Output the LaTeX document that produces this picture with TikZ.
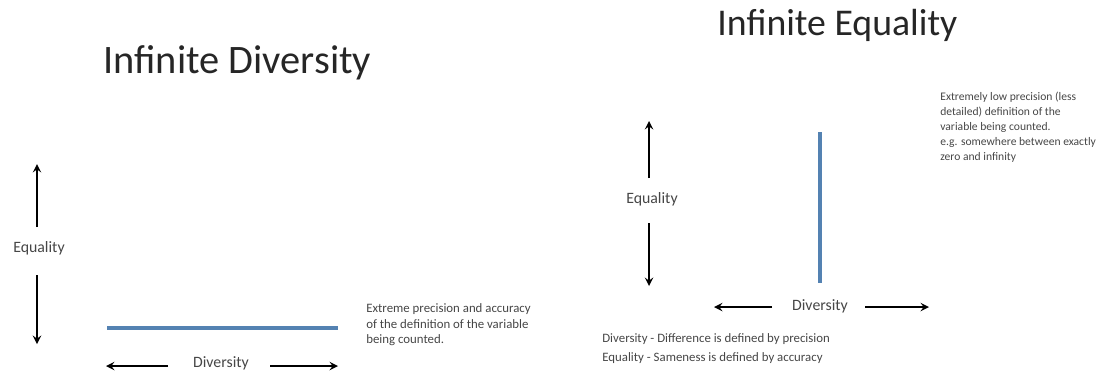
\documentclass[tikz,border=0pt]{standalone}
\usepackage{fontspec}
\setmainfont{Carlito}
\definecolor{lineblue}{RGB}{84,130,178}
\definecolor{textgray}{RGB}{70,70,70}
\definecolor{titlegray}{RGB}{38,38,38}

\begin{document}
\begin{tikzpicture}[x=0.02cm,y=-0.02cm,>=stealth,
    axis arrow/.style={->,line width=1.1pt},
    level line/.style={line width=1.8pt,draw=lineblue},
    title node/.style={inner sep=0pt,text=titlegray,font=\fontsize{23}{27}\selectfont},
    axis node/.style={inner sep=0pt,text=textgray,font=\fontsize{9}{11}\selectfont},
    note node/.style={inner sep=0pt,text=textgray,align=left,font=\fontsize{7.3}{9}\selectfont}]

            \useasboundingbox (0,0) rectangle (1105,376);

            % left picture
            \node[title node, anchor=base west] (title1) at (103,73) {Infinite Diversity};
            \node[axis node] (eq1) at (39,248) {Equality};
            \node[axis node] (div1) at (221,363) {Diversity};
            \node[note node, anchor=north west] (note1) at (366,303) {Extreme precision and accuracy\\of the definition of the variable\\being counted.};

            \coordinate (eq1up) at (37,227);
            \coordinate (eq1top) at (37,164);
            \coordinate (eq1dn) at (37,275);
            \coordinate (eq1bot) at (37,344);
            \coordinate (div1l) at (168,366);
            \coordinate (div1left) at (106,366);
            \coordinate (div1r) at (270,366);
            \coordinate (div1right) at (338,366);
            \coordinate (lvl1a) at (107,328);
            \coordinate (lvl1b) at (338,328);

            \draw[axis arrow] (eq1up) to (eq1top);
            \draw[axis arrow] (eq1dn) to (eq1bot);
            \draw[axis arrow] (div1l) to (div1left);
            \draw[axis arrow] (div1r) to (div1right);
            \draw[level line] (lvl1a) to (lvl1b);

            % right picture
            \node[title node, anchor=base west, font=\fontsize{21.5}{25}\selectfont] (title2) at (717,35) {Infinite Equality};
            \node[axis node] (eq2) at (652,199) {Equality};
            \node[axis node] (div2) at (820,306) {Diversity};
            \node[note node, anchor=north west, font=\fontsize{6.6}{8.5}\selectfont] (note2) at (940,92) {Extremely low precision (less\\detailed) definition of the\\variable being counted.\\e.g. somewhere between exactly\\zero and infinity};
            \node[note node, anchor=west] (key1) at (602,339) {Diversity - Difference is defined by precision};
            \node[note node, anchor=west] (key2) at (602,358) {Equality - Sameness is defined by accuracy};

            \coordinate (eq2up) at (649,178);
            \coordinate (eq2top) at (649,121);
            \coordinate (eq2dn) at (649,223);
            \coordinate (eq2bot) at (649,286);
            \coordinate (div2l) at (772,307);
            \coordinate (div2left) at (714,307);
            \coordinate (div2r) at (865,307);
            \coordinate (div2right) at (929,307);
            \coordinate (lvl2a) at (820,132);
            \coordinate (lvl2b) at (820,283);

            \draw[axis arrow] (eq2up) to (eq2top);
            \draw[axis arrow] (eq2dn) to (eq2bot);
            \draw[axis arrow] (div2l) to (div2left);
            \draw[axis arrow] (div2r) to (div2right);
            \draw[level line] (lvl2a) to (lvl2b);

            ;
        \end{tikzpicture}
\end{document}
